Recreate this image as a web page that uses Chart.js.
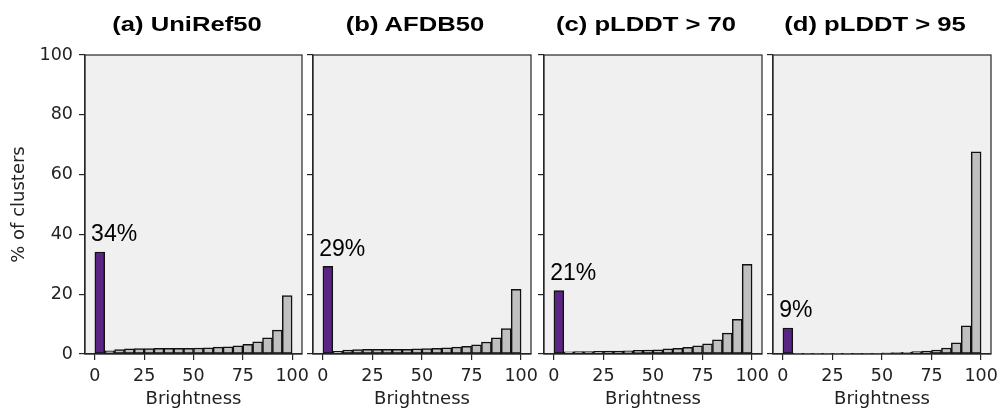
<!DOCTYPE html>
<html>
<head>
<meta charset="utf-8">
<script src="https://cdn.jsdelivr.net/npm/chart.js@4.4.1/dist/chart.umd.min.js"></script>
<style>
  html, body { margin: 0; padding: 0; background: #fff; }
  #wrap { position: relative; width: 998px; height: 412px; overflow: hidden; background: #fff; }
  #wrap canvas { position: absolute; left: 0; top: 0; }
  .ptitle { position: absolute; top: 11px; font-family: "Liberation Sans", Arial, sans-serif; font-weight: bold;
            font-size: 21px; line-height: 26px; color: #000; white-space: nowrap; transform: translateX(-50%) scaleX(1.22); }
</style>
</head>
<body>
<div id="wrap"></div>
<script>
// ---- data ----
const binCenters = [2.5, 7.5, 12.5, 17.5, 22.5, 27.5, 32.5, 37.5, 42.5, 47.5,
                    52.5, 57.5, 62.5, 67.5, 72.5, 77.5, 82.5, 87.5, 92.5, 97.5];
const uniref50 = [34.1, 1.1, 1.5, 1.7, 1.8, 1.8, 1.9, 1.9, 1.9, 1.9, 2.0, 2.1, 2.3, 2.4, 2.7, 3.2, 4.1, 5.4, 8.0, 19.5];
const afdb50   = [29.3, 0.9, 1.3, 1.5, 1.6, 1.6, 1.6, 1.6, 1.6, 1.7, 1.8, 1.9, 2.1, 2.3, 2.6, 3.1, 4.0, 5.4, 8.5, 21.6];
const plddt70  = [21.2, 0.7, 0.8, 0.8, 0.9, 1.0, 1.0, 1.1, 1.2, 1.3, 1.4, 1.7, 1.9, 2.2, 2.7, 3.4, 4.7, 7.0, 11.6, 30.0];
const plddt95  = [8.7, 0.01, 0.02, 0.03, 0.05, 0.08, 0.1, 0.12, 0.2, 0.25, 0.35, 0.45, 0.6, 0.8, 1.0, 1.3, 2.0, 3.7, 9.4, 67.6];
const panelTitles = ["(a) UniRef50", "(b) AFDB50", "(c) pLDDT > 70", "(d) pLDDT > 95"];
const darkLabels = ["34%", "29%", "21%", "9%"];
const xTickValues = [0, 25, 50, 75, 100];
const yTickValues = [0, 20, 40, 60, 80, 100];
const xAxisLabel = "Brightness";
const yAxisLabel = "% of clusters";

// ---- layout / style ----
const W = 998, H = 412;
const plotLefts  = [85, 313, 544, 773];
const plotRights = [302, 531, 762, 991];
const plotTop = 55, plotBottom = 354;
const seriesList = [uniref50, afdb50, plddt70, plddt95];
const PURPLE = "#5a2485", GREY = "#c0c0c0", EDGE = "#111", AX = "#262626";

const wrap = document.getElementById("wrap");

seriesList.forEach((vals, i) => {
  const cv = document.createElement("canvas");
  cv.width = W; cv.height = H;
  cv.style.width = W + "px"; cv.style.height = H + "px";
  wrap.appendChild(cv);

  const t = document.createElement("div");
  t.className = "ptitle";
  t.textContent = panelTitles[i];
  t.style.left = ((plotLefts[i] + plotRights[i]) / 2 - 7) + "px";
  wrap.appendChild(t);

  const first = i === 0;
  const yW = first ? 85 : 8;

  const framePlugin = {
    id: "frame" + i,
    beforeDraw(chart) {
      const a = chart.chartArea, c = chart.ctx;
      c.save(); c.fillStyle = "#f0f0f0";
      c.fillRect(a.left, a.top, a.right - a.left, a.bottom - a.top);
      c.restore();
    },
    afterDatasetsDraw(chart) {
      const a = chart.chartArea, c = chart.ctx;
      c.save();
      c.strokeStyle = AX; c.lineWidth = 1.2;
      c.strokeRect(a.left, a.top, a.right - a.left, a.bottom - a.top);
      const xs = chart.scales.x, ys = chart.scales.y;
      c.fillStyle = "#000";
      c.font = '23px "Liberation Sans", Arial, sans-serif';
      c.textAlign = "left"; c.textBaseline = "alphabetic";
      c.fillText(darkLabels[i], xs.getPixelForValue(-1.9), ys.getPixelForValue(vals[0] + 3.6));
      c.restore();
    }
  };

  new Chart(cv, {
    type: "bar",
    data: {
      datasets: [{
        data: binCenters.map((x, k) => ({ x: x, y: vals[k] })),
        backgroundColor: binCenters.map((x, k) => k === 0 ? PURPLE : GREY),
        borderColor: EDGE,
        borderWidth: 1.5,
        borderSkipped: false,
        barPercentage: 1.0,
        categoryPercentage: 1.0
      }]
    },
    options: {
      responsive: false,
      animation: false,
      devicePixelRatio: 1,
      layout: { padding: { left: plotLefts[i] - yW, right: W - plotRights[i], top: plotTop, bottom: 0 } },
      plugins: { legend: { display: false }, tooltip: { enabled: false }, title: { display: false } },
      scales: {
        x: {
          type: "linear", min: -5, max: 105, offset: false,
          afterBuildTicks: s => { s.ticks = xTickValues.map(v => ({ value: v })); },
          afterFit: s => { s.height = H - plotBottom; s.paddingLeft = 0; s.paddingRight = 0; },
          grid: { display: true, drawOnChartArea: false, drawTicks: true, tickLength: 6, color: AX, lineWidth: 1.2, offset: false },
          border: { display: true, color: AX, width: 1.2 },
          ticks: { color: "#222", padding: 6, maxRotation: 0, autoSkip: false,
                   font: { family: '"DejaVu Sans", sans-serif', size: 17.5 }, callback: v => String(v) },
          title: { display: true, text: xAxisLabel, color: "#222",
                   font: { family: '"DejaVu Sans", sans-serif', size: 18 }, padding: { top: 0, bottom: 2 } }
        },
        y: {
          min: 0, max: 100,
          afterBuildTicks: s => { s.ticks = yTickValues.map(v => ({ value: v })); },
          afterFit: s => { s.width = yW; s.paddingTop = 0; s.paddingBottom = 0; },
          grid: { display: true, drawOnChartArea: false, drawTicks: true, tickLength: 6, color: AX, lineWidth: 1.2 },
          border: { display: true, color: AX, width: 1.2 },
          ticks: { color: "#222", padding: 6, autoSkip: false,
                   font: { family: '"DejaVu Sans", sans-serif', size: 17.5 },
                   callback: v => first ? String(v) : "" },
          title: { display: first, text: yAxisLabel, color: "#222",
                   font: { family: '"DejaVu Sans", sans-serif', size: 18 }, padding: { top: 9, bottom: 0 } }
        }
      }
    },
    plugins: [framePlugin]
  });
});
</script>
</body>
</html>
